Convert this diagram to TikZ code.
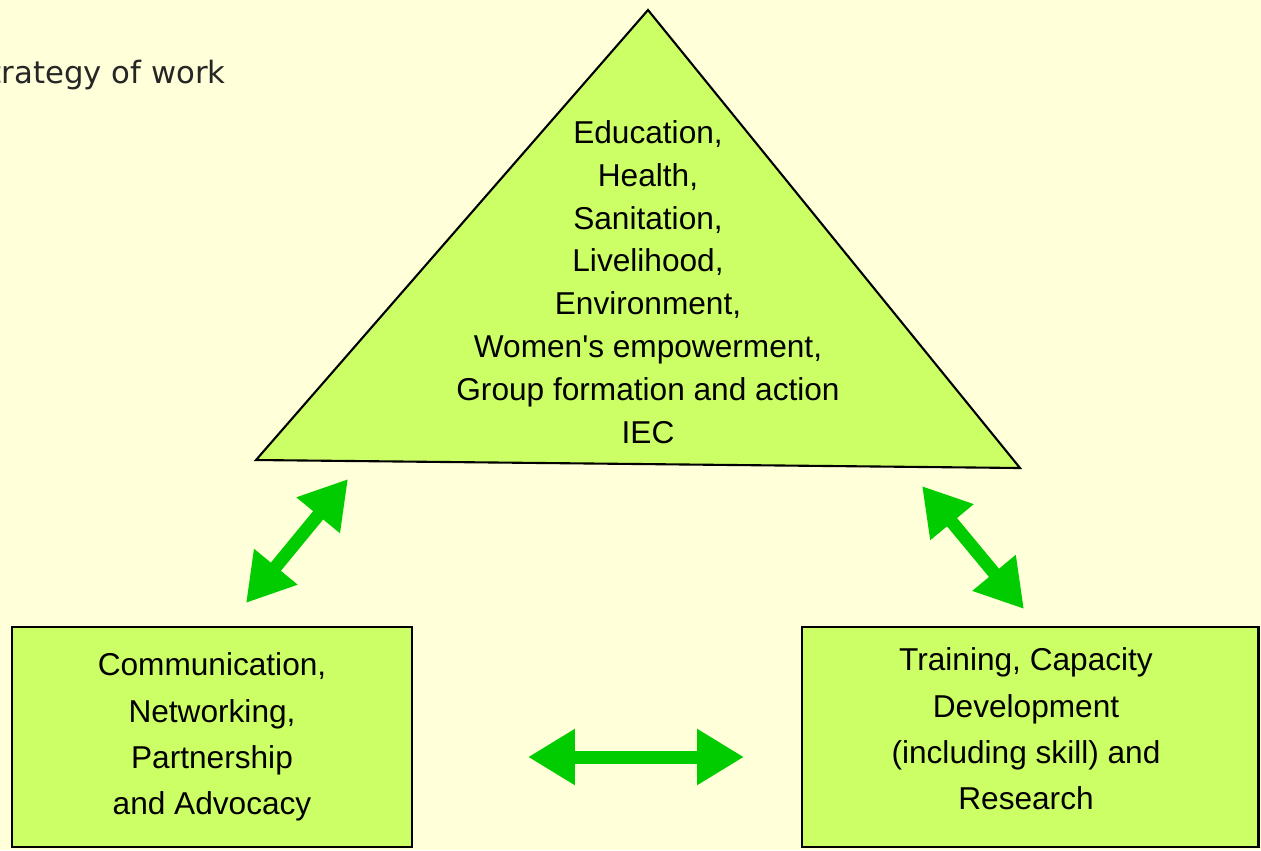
\documentclass[tikz,border=0pt]{standalone}
\usepackage{fontspec}
\setmainfont{Liberation Sans}
\newfontfamily\headfont{DejaVu Sans}
\usetikzlibrary{arrows.meta}
\definecolor{paper}{HTML}{FFFFD9}
\definecolor{leaf}{HTML}{CCFF66}
\definecolor{linkgreen}{HTML}{00CC00}

\begin{document}
\begin{tikzpicture}[x=0.02cm,y=-0.02cm]
\tikzset{block/.style = {draw, fill=leaf, line width=1.2pt, minimum height=4.4cm, align=center, font=\fontsize{18}{26.4}\selectfont}}
\tikzset{link/.style = {{Triangle[length=0.94cm,width=1.06cm]}-{Triangle[length=0.94cm,width=1.06cm]}, line width=0.26cm, draw=linkgreen}}
% page
\fill[paper] (0,0) rectangle (1261,850);
\clip (0,0) rectangle (1261,850);
\node[anchor=base east, inner sep=0pt, text=black!85, font=\headfont\fontsize{17.5}{20}\selectfont] (title) at (226,83) {Strategy of work};
% triangle
\coordinate (apex) at (648,10);
\coordinate (baseL) at (256,460);
\coordinate (baseR) at (1020,468);
\draw[fill=leaf, line width=1.2pt] (apex) -- (baseL) -- (baseR) -- cycle;
\node[align=center, font=\fontsize{18}{24.4}\selectfont] (themes) at (648,282)
{Education,\\Health,\\Sanitation,\\Livelihood,\\Environment,\\Women\textquotesingle s empowerment,\\Group formation and action\\IEC};
% boxes
\node[block, minimum width=8cm] (comm) at (212,737)
{Communication,\\Networking,\\Partnership\\and Advocacy};
\node[block, minimum width=9.14cm] (train) at (1030,737) {};
\node[align=center, font=\fontsize{18}{26.4}\selectfont] (trainText) at (1026,729)
{Training, Capacity\\Development\\(including skill) and\\Research};
%links
\coordinate (commT) at (246,603);
\coordinate (triL) at (348,479);
\coordinate (triR) at (922,486);
\coordinate (trainT) at (1024,609);
\coordinate (commR) at (528,757);
\coordinate (trainL) at (744,757);
\draw[link] (commT) -- (triL);
\draw[link] (triR) -- (trainT);
\draw[link] (commR) -- (trainL);
\end{tikzpicture}
\end{document}
